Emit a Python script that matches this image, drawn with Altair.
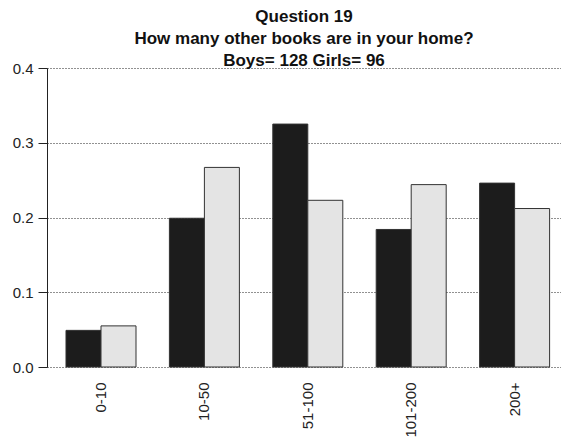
import altair as alt
import pandas as pd

categories = ["0-10", "10-50", "51-100", "101-200", "200+"]
boys = [0.049, 0.199, 0.325, 0.184, 0.246]
girls = [0.055, 0.267, 0.223, 0.244, 0.212]
series = ["Boys", "Girls"]
title_lines = ["Question 19", "How many other books are in your home?", "Boys= 128 Girls= 96"]

rows = []
for c, b, g in zip(categories, boys, girls):
    rows.append({"cat": c, "series": "Boys", "value": b})
    rows.append({"cat": c, "series": "Girls", "value": g})
df = pd.DataFrame(rows)

FONT = "Liberation Sans"

chart = alt.Chart(df).mark_bar(stroke="#333333", strokeWidth=1).encode(
    x=alt.X("cat:N", sort=categories, title=None,
            scale=alt.Scale(paddingInner=0.323, paddingOuter=0.147, align=0.625),
            axis=alt.Axis(labelAngle=-90, ticks=False, domain=False, grid=False,
                          labelPadding=15, labelFont=FONT, labelFontSize=15,
                          labelColor="#222222")),
    xOffset=alt.XOffset("series:N", sort=series, scale=alt.Scale(paddingInner=0, paddingOuter=0)),
    y=alt.Y("value:Q", title=None,
            scale=alt.Scale(domain=[0, 0.4], nice=False),
            axis=alt.Axis(values=[0, 0.1, 0.2, 0.3, 0.4], format=".1f",
                          tickSize=9, labelPadding=5, minExtent=39,
                          labelFont=FONT, labelFontSize=15, labelColor="#222222",
                          domainColor="#222222", tickColor="#222222",
                          grid=True, gridColor="#222222", gridDash=[1, 2],
                          gridWidth=1)),
    color=alt.Color("series:N", sort=series,
                    scale=alt.Scale(domain=series, range=["#1c1c1c", "#e4e4e4"]),
                    legend=None),
).properties(
    width=514,
    height=299,
    padding={"left": 0, "top": 0, "right": 0, "bottom": 0},
    title=alt.TitleParams(text=title_lines, font=FONT, fontSize=17, fontWeight="bold",
                          lineHeight=22, anchor="middle", color="#111111",
                          offset=-9),
).configure_view(stroke=None).configure_axis(labelFontWeight="normal")

chart.save("out.html", embed_options={"renderer": "svg", "actions": False})
